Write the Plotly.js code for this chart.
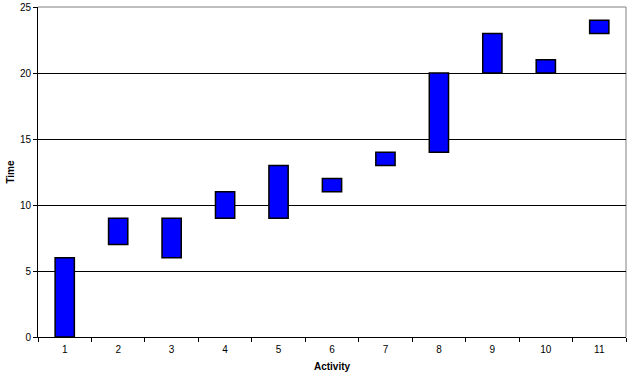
<!DOCTYPE html>
<html>
<head>
<meta charset="utf-8">
<script src="https://cdn.plot.ly/plotly-3.0.1.min.js"></script>
<style>html,body{margin:0;padding:0;background:#fff;}#chart{width:633px;height:372px;}</style>
</head>
<body>
<div id="chart"></div>
<script>
var activities = ["1","2","3","4","5","6","7","8","9","10","11"];
var startTimes = [0, 7, 6, 9, 9, 11, 13, 14, 20, 20, 23];
var endTimes   = [6, 9, 9, 11, 13, 12, 14, 20, 23, 21, 24];
var yTicks = [0, 5, 10, 15, 20, 25];

var durations = endTimes.map(function(e, i){ return e - startTimes[i]; });

var trace = {
  type: 'bar',
  x: activities,
  y: durations,
  base: startTimes,
  marker: {color: '#0000ff', line: {color: '#000000', width: 1.5}},
  width: 0.36,
  hoverinfo: 'skip'
};

var layout = {
  width: 633, height: 372,
  margin: {l: 38, r: 7, t: 7, b: 35},
  paper_bgcolor: '#ffffff', plot_bgcolor: '#ffffff',
  showlegend: false,
  font: {family: 'Arial, Liberation Sans, sans-serif', size: 10, color: '#000'},
  xaxis: {
    type: 'category',
    tickson: 'boundaries',
    ticks: 'outside', ticklen: 4, tickcolor: '#000', tickwidth: 1,
    ticklabelstandoff: 3,
    showline: true, linecolor: '#000', linewidth: 1,
    showgrid: false, zeroline: false,
    tickfont: {size: 10},
    title: {text: 'Activity', font: {size: 10, weight: 'bold'}, standoff: 9}
  },
  yaxis: {
    range: [0, 25],
    tickvals: yTicks,
    ticks: 'outside', ticklen: 4, tickcolor: '#000',
    showline: true, linecolor: '#000', linewidth: 1,
    showgrid: true, gridcolor: '#000', gridwidth: 1,
    zeroline: false,
    tickfont: {size: 10},
    title: {text: 'Time', font: {size: 10, weight: 'bold'}, standoff: 3}
  },
  shapes: [
    {type: 'line', xref: 'paper', yref: 'paper', x0: 0, x1: 1, y0: 1, y1: 1, line: {color: '#808080', width: 1}, layer: 'above'},
    {type: 'line', xref: 'paper', yref: 'paper', x0: 1, x1: 1, y0: 0, y1: 1, line: {color: '#808080', width: 1}, layer: 'below'}
  ]
};

Plotly.newPlot('chart', [trace], layout, {displayModeBar: false, staticPlot: true});
</script>
</body>
</html>
